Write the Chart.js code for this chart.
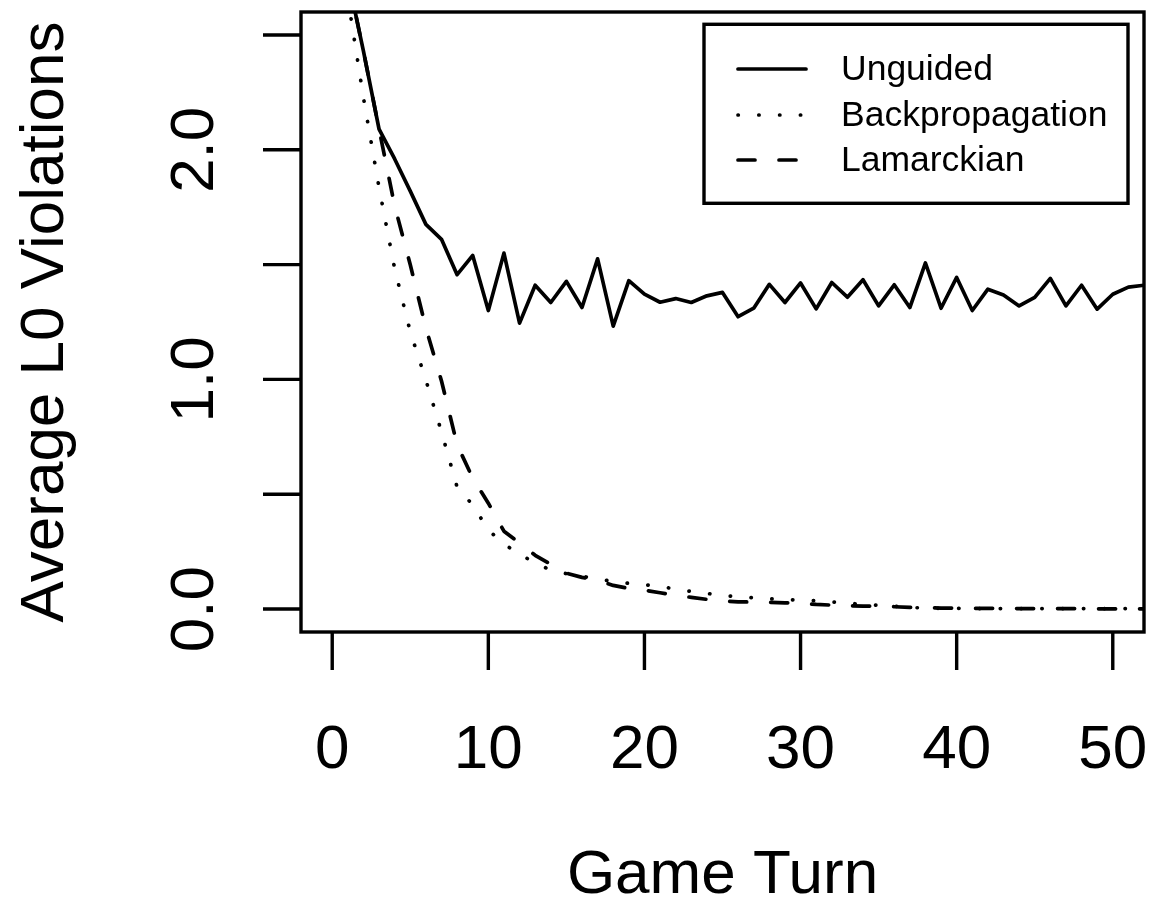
<!DOCTYPE html>
<html>
<head>
<meta charset="utf-8">
<script src="https://cdn.jsdelivr.net/npm/chart.js@4.4.0/dist/chart.umd.min.js"></script>
<style>
html,body{margin:0;padding:0;background:#fff;}
canvas{display:block;}
</style>
</head>
<body>
<canvas id="c" width="1151" height="921"></canvas>
<script>
const turns = [1,2,3,4,5,6,7,8,9,10,11,12,13,14,15,16,17,18,19,20,21,22,23,24,25,26,27,28,29,30,31,32,33,34,35,36,37,38,39,40,41,42,43,44,45,46,47,48,49,50,51,52];
const unguided = [2.75,2.43,2.09,1.96,1.82,1.675,1.61,1.456,1.54,1.30,1.55,1.245,1.41,1.335,1.427,1.313,1.525,1.232,1.43,1.371,1.336,1.352,1.335,1.364,1.379,1.273,1.31,1.414,1.335,1.42,1.307,1.422,1.358,1.434,1.32,1.412,1.313,1.507,1.31,1.444,1.30,1.393,1.368,1.32,1.357,1.44,1.32,1.41,1.306,1.371,1.402,1.41];
const backprop = [2.66,2.227,1.835,1.482,1.207,0.997,0.771,0.531,0.453,0.344,0.283,0.239,0.201,0.169,0.154,0.143,0.130,0.121,0.112,0.106,0.099,0.086,0.077,0.068,0.060,0.053,0.049,0.045,0.042,0.038,0.036,0.031,0.026,0.020,0.016,0.012,0.007,0.004,0.003,0.003,0.002,0.002,0.002,0.002,0.002,0.002,0.002,0.002,0.002,0.002,0.002,0.002];
const lamarckian = [2.75,2.43,2.09,1.756,1.499,1.224,0.993,0.716,0.570,0.461,0.339,0.287,0.234,0.195,0.156,0.138,0.125,0.103,0.090,0.082,0.071,0.060,0.051,0.042,0.036,0.031,0.031,0.029,0.027,0.025,0.020,0.017,0.014,0.013,0.012,0.010,0.007,0.006,0.004,0.004,0.003,0.003,0.003,0.002,0.002,0.002,0.002,0.002,0.001,0.001,0.001,0.001];
const seriesNames = ["Unguided","Backpropagation","Lamarckian"];
const xTicks = [0,10,20,30,40,50];
const xTickLabels = ["0","10","20","30","40","50"];
const yTicks = [0,0.5,1.0,1.5,2.0,2.5];
const yLabelValues = [0,1.0,2.0];
const yTickLabels = ["0.0","1.0","2.0"];
const xTitle = "Game Turn";
const yTitle = "Average L0 Violations";

const FONT = '"Liberation Sans", Arial, Helvetica, sans-serif';
const LW = 3.7;
const BOX_LW = 3.4;

function pts(ys){ return turns.map((t,i)=>({x:t,y:ys[i]})); }

const styles = [
  {dash:[], cap:'round'},
  {dash:[0.3,20.5], cap:'round'},
  {dash:[17,24], cap:'round'}
];

const rPlot = {
  id:'rPlot',
  afterDraw(chart){
    const ctx = chart.ctx;
    const a = chart.chartArea;
    const xs = chart.scales.x, ys = chart.scales.y;
    ctx.save();
    ctx.strokeStyle = '#000';
    ctx.fillStyle = '#000';
    ctx.lineWidth = BOX_LW;
    ctx.lineCap = 'butt';
    ctx.setLineDash([]);
    // box
    ctx.strokeRect(a.left, a.top, a.right - a.left, a.bottom - a.top);
    // y ticks
    ctx.beginPath();
    yTicks.forEach(v=>{
      const p = ys.getPixelForValue(v);
      ctx.moveTo(a.left - 38, p); ctx.lineTo(a.left, p);
    });
    // x ticks
    xTicks.forEach(v=>{
      const p = xs.getPixelForValue(v);
      ctx.moveTo(p, a.bottom); ctx.lineTo(p, a.bottom + 38);
    });
    ctx.stroke();
    // tick labels
    ctx.font = '62px ' + FONT;
    ctx.textAlign = 'center';
    ctx.textBaseline = 'alphabetic';
    xTicks.forEach((v,i)=>{
      ctx.fillText(xTickLabels[i], xs.getPixelForValue(v), 768);
    });
    yLabelValues.forEach((v,i)=>{
      const p = ys.getPixelForValue(v);
      ctx.save();
      ctx.translate(213, p);
      ctx.rotate(-Math.PI/2);
      ctx.fillText(yTickLabels[i], 0, 0);
      ctx.restore();
    });
    // titles
    ctx.fillText(xTitle, (a.left + a.right)/2, 893);
    ctx.save();
    ctx.translate(63, (a.top + a.bottom)/2);
    ctx.rotate(-Math.PI/2);
    ctx.fillText(yTitle, 0, 0);
    ctx.restore();
    // legend
    const lx = 704, ly = 24.3, lw = 424, lh = 179;
    ctx.lineWidth = BOX_LW;
    ctx.strokeRect(lx, ly, lw, lh);
    ctx.font = '35.5px ' + FONT;
    ctx.textAlign = 'left';
    ctx.textBaseline = 'middle';
    const rows = [69, 115, 160];
    chart.data.datasets.forEach((ds,i)=>{
      ctx.beginPath();
      ctx.setLineDash(ds.borderDash || []);
      ctx.lineCap = ds.borderCapStyle || 'butt';
      ctx.lineWidth = ds.borderWidth;
      ctx.moveTo(738, rows[i]); ctx.lineTo(806, rows[i]);
      ctx.stroke();
      ctx.setLineDash([]);
      ctx.fillText(ds.label, 841, rows[i] + 1);
    });
    ctx.restore();
  }
};

new Chart(document.getElementById('c'), {
  type:'line',
  data:{
    datasets:[unguided, backprop, lamarckian].map((ys,i)=>({
      label: seriesNames[i],
      data: pts(ys),
      borderColor:'#000',
      borderWidth: LW,
      borderDash: styles[i].dash,
      borderCapStyle: styles[i].cap,
      borderJoinStyle:'round',
      pointRadius:0,
      tension:0,
      fill:false,
      clip:0
    }))
  },
  options:{
    responsive:false,
    animation:false,
    events:[],
    layout:{padding:{left:301, right:7, top:12, bottom:289}},
    plugins:{legend:{display:false}, tooltip:{enabled:false}},
    scales:{
      x:{type:'linear', min:-2, max:52, display:false},
      y:{type:'linear', min:-0.1, max:2.6, display:false}
    }
  },
  plugins:[rPlot]
});
</script>
</body>
</html>
